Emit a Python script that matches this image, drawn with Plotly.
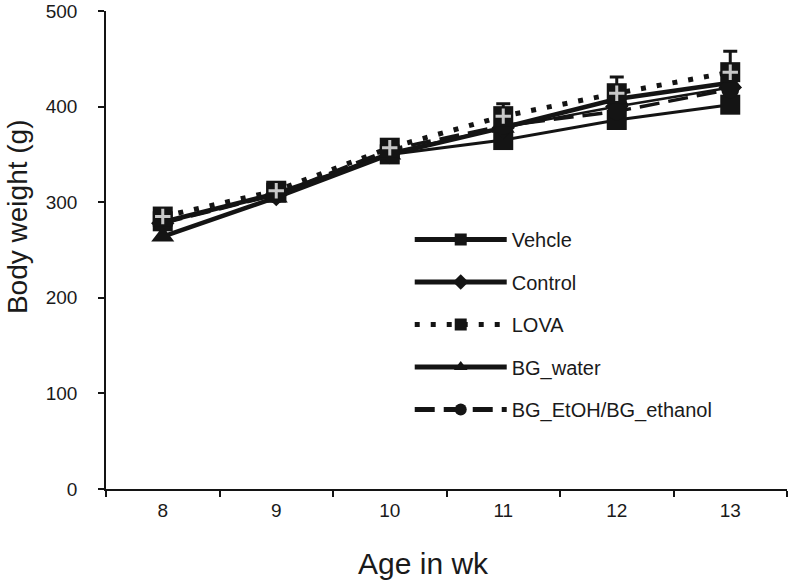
import plotly.graph_objects as go

weeks = [8, 9, 10, 11, 12, 13]
vehicle = [280, 310, 350, 365, 386, 402]
control = [278, 308, 352, 378, 400, 420]
lova = [285, 312, 357, 390, 414, 436]
lova_err = [6, 6, 6, 13, 17, 22]
bg_water = [264, 305, 350, 378, 408, 425]
bg_etoh = [278, 308, 355, 380, 395, 418]
y_ticks = [0, 100, 200, 300, 400, 500]

ink = "#141414"
fig = go.Figure()

fig.add_trace(go.Scatter(
    x=weeks, y=vehicle, name="Vehcle", mode="lines+markers",
    line=dict(color=ink, width=3),
    marker=dict(symbol="square", size=20, color=ink),
    legendrank=1, legendgroup="g1",
))
fig.add_trace(go.Scatter(
    x=weeks, y=control, name="Control", mode="lines+markers",
    line=dict(color=ink, width=2.5),
    marker=dict(symbol="diamond", size=18, color=ink),
    legendrank=2, legendgroup="g2",
))
fig.add_trace(go.Scatter(
    x=weeks, y=bg_etoh, name="BG_EtOH/BG_ethanol", mode="lines+markers",
    line=dict(color=ink, width=3.5, dash="20px,9px"),
    marker=dict(symbol="circle", size=18, color=ink),
    legendrank=5, legendgroup="g5",
))
fig.add_trace(go.Scatter(
    x=weeks, y=bg_water, name="BG_water", mode="lines+markers",
    line=dict(color=ink, width=4.5),
    marker=dict(symbol="triangle-up", size=20, color=ink),
    legendrank=4, legendgroup="g4",
))
fig.add_trace(go.Scatter(
    x=weeks, y=lova, name="LOVA", mode="lines+markers",
    line=dict(color=ink, width=5, dash="5px,11px"),
    marker=dict(symbol="square", size=20, color=ink),
    error_y=dict(type="data", array=lova_err, visible=True,
                 color=ink, thickness=3, width=7),
    legendrank=3, legendgroup="g3",
))
fig.add_trace(go.Scatter(
    x=weeks, y=lova, name="LOVA", mode="markers", showlegend=False,
    marker=dict(symbol="cross-thin", size=11, color="#c8c8c8",
                line=dict(color="#c8c8c8", width=3)),
    hoverinfo="skip", legendgroup="g3",
))

fig.update_layout(
    width=788, height=581,
    margin=dict(l=106, r=1, t=11, b=92),
    paper_bgcolor="white", plot_bgcolor="white",
    font=dict(family="Liberation Sans, Arial, sans-serif", size=19, color="#1a1a1a"),
    showlegend=True,
    legend=dict(
        x=0.446, y=0.5628, xanchor="left", yanchor="top",
        bgcolor="rgba(0,0,0,0)", font=dict(size=20, color="#1a1a1a"),
        traceorder="grouped", tracegroupgap=13.5, itemsizing="constant",
        itemwidth=92,
    ),
    xaxis=dict(
        range=[7.5, 13.5], tickvals=weeks, ticktext=[str(w) for w in weeks],
        ticks="", showgrid=False, zeroline=False, automargin=False,
        showline=True, linecolor=ink, linewidth=1.5,
        minor=dict(ticks="outside", tick0=7.5, dtick=1, ticklen=6,
                   tickcolor=ink, tickwidth=1.5, showgrid=False),
        ticklabelstandoff=3,
    ),
    yaxis=dict(
        range=[0, 500], tickvals=y_ticks,
        ticks="outside", ticklen=6, tickcolor=ink, tickwidth=1.5,
        showgrid=False, zeroline=False, automargin=False,
        showline=True, linecolor=ink, linewidth=1.5,
        ticklabelstandoff=17,
    ),
    annotations=[
        dict(text="Age in wk", xref="paper", yref="paper", x=0.4655, y=-0.155,
             xanchor="center", yanchor="middle", showarrow=False,
             font=dict(size=30, color="#1a1a1a")),
        dict(text="Body weight (g)", xref="paper", yref="paper", x=-0.1307, y=0.571,
             xanchor="center", yanchor="middle", showarrow=False, textangle=-90,
             font=dict(size=28, color="#1a1a1a")),
    ],
)

fig.write_html(
    "out.html",
    config={"displayModeBar": False},
    post_script="document.body.style.margin='0px';document.body.style.overflow='hidden';",
)
